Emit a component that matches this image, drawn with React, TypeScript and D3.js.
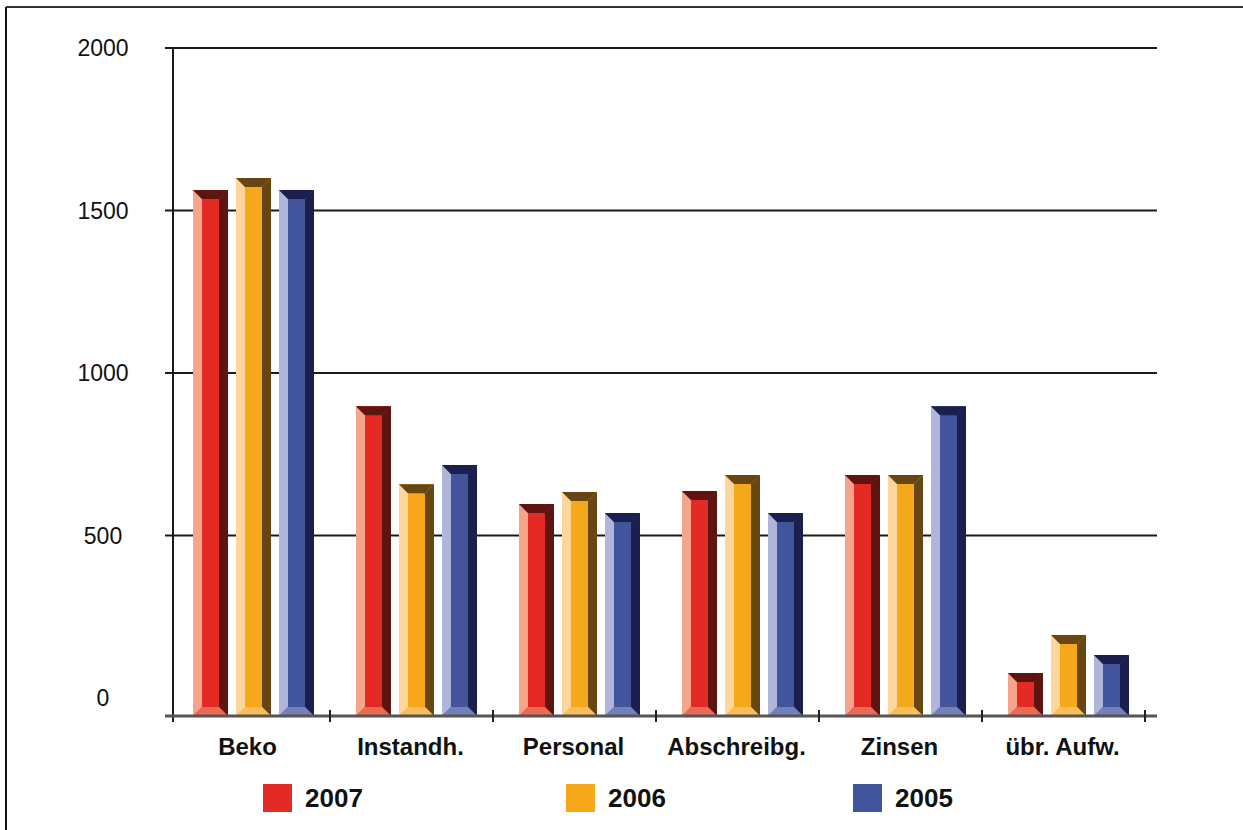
import React from 'react';
import * as d3 from 'd3';

const categories = ['Beko', 'Instandh.', 'Personal', 'Abschreibg.', 'Zinsen', 'übr. Aufw.'];
const years = ['2007', '2006', '2005'];
const values2007 = [1563, 898, 597, 637, 686, 77];
const values2006 = [1600, 658, 634, 686, 686, 194];
const values2005 = [1563, 717, 569, 569, 898, 132];
const yTicks = [0, 500, 1000, 1500, 2000];

const seriesValues = [values2007, values2006, values2005];

// main, light bevel, dark bevel, bottom bevel
const palette = [
  { main: '#e42a25', light: '#f4a58b', dark: '#5e1511', bottom: '#ec6a52' },
  { main: '#f6a81b', light: '#fdd69d', dark: '#684613', bottom: '#f9be5a' },
  { main: '#42549c', light: '#b0b5da', dark: '#1b1f4d', bottom: '#7480b8' },
];

const W = 1243;
const H = 830;
const baseline = 716;

const App = () => {
  const x = d3.scaleBand().domain(categories).range([167, 1145]).padding(0);
  const inner = d3.scaleBand().domain(years).range([26, 147]).paddingInner(0.186).paddingOuter(0);
  const y = d3.scaleLinear().domain([0, 2000]).range([698, 48]);

  const bev = 9;

  const bar = (cat: string, yi: number) => {
    const v = seriesValues[yi][categories.indexOf(cat)];
    const x0 = (x(cat) as number) + (inner(years[yi]) as number);
    const w = inner.bandwidth();
    const x1 = x0 + w;
    const t = y(v);
    const b = baseline;
    const bt = Math.min(bev, (b - t) / 2);
    const c = palette[yi];
    const pts = (p: number[][]) => p.map((q) => q.join(',')).join(' ');
    return (
      <g key={cat + yi}>
        <rect x={x0} y={t} width={w} height={b - t} fill={c.main} />
        <polygon points={pts([[x0, t], [x0 + bev, t + bt], [x0 + bev, b - bt], [x0, b]])} fill={c.light} />
        <polygon points={pts([[x1, t], [x1 - bev, t + bt], [x1 - bev, b - bt], [x1, b]])} fill={c.dark} />
        <polygon points={pts([[x0, t], [x1, t], [x1 - bev, t + bt], [x0 + bev, t + bt]])} fill={c.dark} />
        <polygon points={pts([[x0, b], [x0 + bev, b - bt], [x1 - bev, b - bt], [x1, b]])} fill={c.bottom} />
      </g>
    );
  };

  const legendX = [263, 566, 853];

  return (
    <div style={{ position: 'absolute', left: 0, top: 0 }}>
      <svg width={W} height={H} style={{ display: 'block', background: '#fff' }}>
        {/* frame */}
        <line x1={6} y1={7} x2={W} y2={7} stroke="#333" strokeWidth={2} />
        <line x1={6} y1={7} x2={6} y2={H} stroke="#111" strokeWidth={2} />

        {/* gridlines */}
        {yTicks.filter((d) => d > 0).map((d) => (
          <line key={d} x1={165} x2={1157} y1={y(d)} y2={y(d)} stroke="#1a1a1a" strokeWidth={2} />
        ))}

        {/* y axis */}
        <line x1={173} x2={173} y1={y(2000)} y2={baseline + 6} stroke="#1a1a1a" strokeWidth={2} />

        {yTicks.map((d) => (
          <text key={d} x={103} y={y(d) + 8} textAnchor="middle" fontFamily="'Liberation Sans', Arial, sans-serif" fontSize={23} fill="#111">
            {d}
          </text>
        ))}

        {/* bars */}
        {categories.map((cat) => years.map((_, yi) => bar(cat, yi)))}

        {/* baseline */}
        <line x1={165} x2={1157} y1={baseline} y2={baseline} stroke="#555" strokeWidth={3} />
        {categories.slice(1).map((cat) => (
          <line key={cat} x1={x(cat) as number} x2={x(cat) as number} y1={baseline - 6} y2={baseline + 6} stroke="#222" strokeWidth={2} />
        ))}
        <line x1={1145} x2={1145} y1={baseline - 6} y2={baseline + 6} stroke="#222" strokeWidth={2} />

        {categories.map((cat) => (
          <text key={cat} x={(x(cat) as number) + x.bandwidth() / 2 - 1} y={755} textAnchor="middle" fontFamily="'Liberation Sans', Arial, sans-serif" fontWeight="bold" fontSize={24} fill="#111">
            {cat}
          </text>
        ))}

        {/* legend */}
        {years.map((yr, i) => (
          <g key={yr}>
            <rect x={legendX[i]} y={784} width={29} height={28} fill={palette[i].main} />
            <text x={legendX[i] + 42} y={807} fontFamily="'Liberation Sans', Arial, sans-serif" fontWeight="bold" fontSize={26} fill="#111">
              {yr}
            </text>
          </g>
        ))}
      </svg>
    </div>
  );
};

export default App;
